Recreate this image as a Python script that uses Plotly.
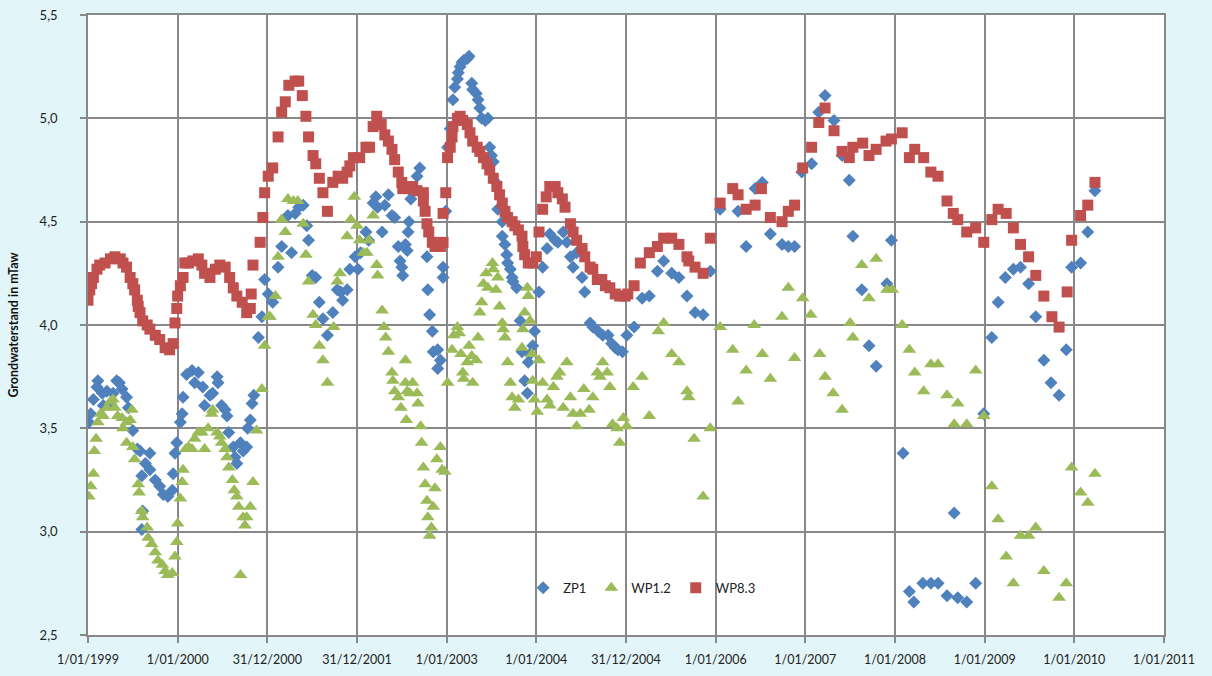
import plotly.graph_objects as go

# ---- tick labels (x axis: decimal years) ----
x_tick_years = [1999, 2000, 2001, 2002, 2003, 2004, 2005, 2006, 2007, 2008, 2009, 2010, 2011]
x_tick_labels = ["1/01/1999", "1/01/2000", "31/12/2000", "31/12/2001", "1/01/2003", "1/01/2004",
                 "31/12/2004", "1/01/2006", "1/01/2007", "1/01/2008", "1/01/2009", "1/01/2010", "1/01/2011"]

# ---- ZP1 (blue diamonds) ----
zp1_t = [1999.01, 1999.03, 1999.06, 1999.10, 1999.11, 1999.16, 1999.17, 1999.21, 1999.25, 1999.28, 1999.32, 1999.35,
         1999.38, 1999.43, 1999.45, 1999.50, 1999.55, 1999.58, 1999.60, 1999.64, 1999.61, 1999.60, 1999.69, 1999.69,
         1999.75, 1999.80, 1999.84, 1999.89, 1999.94, 1999.95, 1999.97, 1999.99, 2000.03, 2000.05, 2000.06, 2000.10,
         2000.16, 2000.19, 2000.23, 2000.28, 2000.30, 2000.36, 2000.39, 2000.44, 2000.45, 2000.49, 2000.53, 2000.55,
         2000.57, 2000.62, 2000.64, 2000.66, 2000.70, 2000.73, 2000.77, 2000.78, 2000.81, 2000.83, 2000.85, 2000.90,
         2000.94, 2000.97, 2001.01, 2001.06, 2001.12, 2001.16, 2001.23, 2001.27, 2001.31, 2001.35, 2001.40, 2001.44,
         2001.46, 2001.50, 2001.54, 2001.58, 2001.62, 2001.67, 2001.73, 2001.78, 2001.82, 2001.84, 2001.89, 2001.92,
         2001.98, 2002.01, 2002.04, 2002.10, 2002.13, 2002.18, 2002.21, 2002.23, 2002.28, 2002.31, 2002.35, 2002.39,
         2002.42, 2002.46, 2002.48, 2002.50, 2002.51, 2002.54, 2002.56, 2002.57, 2002.58, 2002.60, 2002.62, 2002.67,
         2002.70, 2002.78, 2002.79, 2002.81, 2002.84, 2002.85, 2002.90, 2002.90, 2002.93, 2002.96, 2002.96, 2002.99,
         2003.01, 2003.04, 2003.07, 2003.09, 2003.12, 2003.13, 2003.15, 2003.17, 2003.19, 2003.23, 2003.25, 2003.28,
         2003.29, 2003.33, 2003.35, 2003.37, 2003.39, 2003.43, 2003.46, 2003.48, 2003.50, 2003.52, 2003.55, 2003.57,
         2003.62, 2003.62, 2003.65, 2003.67, 2003.68, 2003.71, 2003.73, 2003.74, 2003.78, 2003.82, 2003.84, 2003.87,
         2003.90, 2003.91, 2003.93, 2003.96, 2003.98, 2004.03, 2004.07, 2004.12, 2004.15, 2004.21, 2004.24, 2004.30,
         2004.34, 2004.38, 2004.41, 2004.45, 2004.51, 2004.54, 2004.60, 2004.63, 2004.69, 2004.74, 2004.80, 2004.84,
         2004.88, 2004.91, 2004.96, 2005.01, 2005.09, 2005.18, 2005.26, 2005.35, 2005.42, 2005.51, 2005.59, 2005.68,
         2005.77, 2005.86, 2005.94, 2006.05, 2006.25, 2006.34, 2006.44, 2006.52, 2006.61, 2006.74, 2006.81, 2006.88,
         2006.96, 2007.07, 2007.15, 2007.22, 2007.32, 2007.41, 2007.49, 2007.53, 2007.63, 2007.71, 2007.79, 2007.91,
         2007.96, 2008.09, 2008.16, 2008.21, 2008.31, 2008.40, 2008.48, 2008.58, 2008.66, 2008.70, 2008.80, 2008.90,
         2008.99, 2009.08, 2009.15, 2009.23, 2009.32, 2009.40, 2009.49, 2009.57, 2009.66, 2009.74, 2009.83, 2009.91,
         2009.97, 2010.07, 2010.15, 2010.23]
zp1_v = [3.53, 3.57, 3.64, 3.70, 3.73, 3.67, 3.61, 3.68, 3.62, 3.67, 3.73, 3.72,
         3.69, 3.65, 3.60, 3.49, 3.40, 3.39, 3.27, 3.33, 3.10, 3.01, 3.38, 3.30,
         3.25, 3.22, 3.18, 3.17, 3.20, 3.28, 3.38, 3.43, 3.53, 3.57, 3.65, 3.76,
         3.78, 3.72, 3.77, 3.70, 3.61, 3.66, 3.67, 3.75, 3.72, 3.61, 3.59, 3.56,
         3.48, 3.41, 3.36, 3.33, 3.43, 3.39, 3.41, 3.50, 3.54, 3.62, 3.66, 3.94,
         4.04, 4.22, 4.15, 4.11, 4.28, 4.38, 4.53, 4.35, 4.54, 4.57, 4.58, 4.48,
         4.41, 4.24, 4.23, 4.11, 4.03, 3.95, 4.06, 4.17, 4.16, 4.12, 4.17, 4.27,
         4.33, 4.27, 4.35, 4.45, 4.41, 4.59, 4.62, 4.57, 4.45, 4.58, 4.63, 4.53,
         4.52, 4.38, 4.31, 4.28, 4.24, 4.39, 4.36, 4.45, 4.50, 4.61, 4.64, 4.72,
         4.76, 4.33, 4.17, 4.05, 3.97, 3.87, 3.88, 3.79, 3.83, 4.28, 4.23, 4.55,
         4.86, 4.95, 5.09, 5.15, 5.19, 5.22, 5.25, 5.27, 5.28, 5.29, 5.30, 5.17,
         5.14, 5.12, 5.09, 5.05, 5.00, 4.99, 5.00, 4.86, 4.82, 4.79, 4.69, 4.56,
         4.50, 4.43, 4.39, 4.34, 4.30, 4.27, 4.23, 4.21, 4.18, 4.02, 3.87, 3.73,
         3.67, 3.82, 3.86, 3.90, 3.97, 4.16, 4.28, 4.37, 4.44, 4.41, 4.40, 4.45,
         4.40, 4.33, 4.28, 4.35, 4.23, 4.16, 4.01, 3.99, 3.97, 3.95, 3.95, 3.91,
         3.89, 3.88, 3.87, 3.95, 3.99, 4.13, 4.14, 4.26, 4.31, 4.25, 4.23, 4.14,
         4.06, 4.05, 4.26, 4.56, 4.55, 4.38, 4.66, 4.69, 4.44, 4.39, 4.38, 4.38,
         4.74, 4.78, 5.03, 5.11, 4.99, 4.82, 4.70, 4.43, 4.17, 3.90, 3.80, 4.20,
         4.41, 3.38, 2.71, 2.66, 2.75, 2.75, 2.75, 2.69, 3.09, 2.68, 2.66, 2.75,
         3.57, 3.94, 4.11, 4.23, 4.27, 4.28, 4.20, 4.04, 3.83, 3.72, 3.66, 3.88,
         4.28, 4.30, 4.45, 4.65]

# ---- WP1.2 (green triangles) ----
wp12_t = [1999.01, 1999.03, 1999.06, 1999.07, 1999.09, 1999.11, 1999.14, 1999.17, 1999.21, 1999.25, 1999.28, 1999.30,
          1999.33, 1999.38, 1999.39, 1999.43, 1999.47, 1999.49, 1999.43, 1999.50, 1999.52, 1999.56, 1999.57, 1999.60,
          1999.61, 1999.66, 1999.67, 1999.71, 1999.75, 1999.78, 1999.83, 1999.86, 1999.89, 1999.94, 1999.97, 1999.99,
          2000.00, 2000.03, 2000.05, 2000.06, 2000.09, 2000.12, 2000.16, 2000.19, 2000.23, 2000.27, 2000.30, 2000.34,
          2000.38, 2000.39, 2000.44, 2000.47, 2000.49, 2000.53, 2000.55, 2000.57, 2000.61, 2000.63, 2000.66, 2000.68,
          2000.70, 2000.73, 2000.75, 2000.77, 2000.81, 2000.84, 2000.88, 2000.94, 2000.97, 2001.01, 2001.03, 2001.09,
          2001.12, 2001.16, 2001.20, 2001.23, 2001.29, 2001.34, 2001.40, 2001.43, 2001.46, 2001.51, 2001.54, 2001.58,
          2001.62, 2001.67, 2001.74, 2001.78, 2001.81, 2001.89, 2001.93, 2001.97, 2002.00, 2002.03, 2002.07, 2002.11,
          2002.13, 2002.18, 2002.22, 2002.23, 2002.28, 2002.30, 2002.32, 2002.35, 2002.39, 2002.40, 2002.42, 2002.46,
          2002.49, 2002.54, 2002.54, 2002.56, 2002.59, 2002.62, 2002.67, 2002.68, 2002.55, 2002.71, 2002.72, 2002.74,
          2002.76, 2002.78, 2002.79, 2002.83, 2002.81, 2002.85, 2002.87, 2002.89, 2002.93, 2002.95, 2002.98, 2003.01,
          2003.06, 2003.08, 2003.12, 2003.14, 2003.16, 2003.18, 2003.19, 2003.23, 2003.25, 2003.28, 2003.29, 2003.33,
          2003.35, 2003.37, 2003.39, 2003.41, 2003.44, 2003.46, 2003.51, 2003.52, 2003.55, 2003.57, 2003.59, 2003.62,
          2003.63, 2003.65, 2003.68, 2003.71, 2003.73, 2003.76, 2003.80, 2003.84, 2003.85, 2003.87, 2003.90, 2003.91,
          2003.93, 2003.95, 2003.96, 2003.98, 2004.01, 2004.03, 2004.07, 2004.12, 2004.15, 2004.19, 2004.23, 2004.26,
          2004.30, 2004.34, 2004.38, 2004.41, 2004.45, 2004.49, 2004.53, 2004.59, 2004.63, 2004.68, 2004.71, 2004.74,
          2004.79, 2004.82, 2004.85, 2004.90, 2004.93, 2004.97, 2005.01, 2005.08, 2005.18, 2005.26, 2005.36, 2005.42,
          2005.51, 2005.59, 2005.68, 2005.70, 2005.76, 2005.86, 2005.94, 2006.05, 2006.19, 2006.25, 2006.34, 2006.43,
          2006.52, 2006.61, 2006.74, 2006.81, 2006.88, 2006.97, 2007.06, 2007.16, 2007.22, 2007.31, 2007.41, 2007.50,
          2007.53, 2007.63, 2007.71, 2007.79, 2007.91, 2007.97, 2008.08, 2008.16, 2008.22, 2008.32, 2008.40, 2008.48,
          2008.58, 2008.66, 2008.70, 2008.80, 2008.90, 2008.99, 2009.08, 2009.15, 2009.24, 2009.32, 2009.40, 2009.49,
          2009.57, 2009.66, 2009.83, 2009.91, 2009.97, 2010.07, 2010.15, 2010.23]
wp12_v = [3.17, 3.22, 3.28, 3.39, 3.45, 3.53, 3.57, 3.56, 3.60, 3.63, 3.64, 3.60,
          3.56, 3.55, 3.50, 3.53, 3.54, 3.59, 3.43, 3.41, 3.35, 3.23, 3.19, 3.10,
          3.07, 3.02, 2.97, 2.94, 2.90, 2.86, 2.84, 2.81, 2.79, 2.80, 2.88, 2.95,
          3.04, 3.16, 3.24, 3.30, 3.40, 3.41, 3.40, 3.45, 3.48, 3.48, 3.40, 3.50,
          3.57, 3.59, 3.48, 3.46, 3.43, 3.40, 3.36, 3.31, 3.25, 3.20, 3.17, 3.12,
          2.79, 3.07, 3.03, 3.07, 3.12, 3.24, 3.49, 3.69, 3.90, 4.04, 4.04, 4.14,
          4.33, 4.51, 4.45, 4.61, 4.60, 4.60, 4.49, 4.34, 4.21, 4.05, 4.00, 3.90,
          3.83, 3.72, 3.99, 4.21, 4.25, 4.43, 4.51, 4.62, 4.48, 4.41, 4.35, 4.35,
          4.41, 4.53, 4.29, 4.24, 4.07, 3.99, 3.94, 3.87, 3.77, 3.73, 3.68, 3.65,
          3.60, 3.72, 3.83, 3.68, 3.67, 3.72, 3.67, 3.62, 3.54, 3.51, 3.43, 3.31,
          3.23, 3.15, 3.07, 3.02, 2.98, 3.12, 3.21, 3.35, 3.41, 3.30, 3.29, 3.72,
          3.88, 3.95, 3.99, 3.96, 3.86, 3.77, 3.74, 3.82, 3.90, 3.85, 3.72, 3.83,
          3.94, 4.06, 4.11, 4.20, 4.25, 4.18, 4.30, 4.27, 4.17, 4.23, 4.09, 4.01,
          3.98, 3.94, 3.82, 3.72, 3.65, 3.60, 3.64, 3.89, 3.98, 4.06, 4.18, 4.14,
          4.02, 3.86, 3.73, 3.64, 3.58, 3.83, 3.72, 3.64, 3.61, 3.70, 3.75, 3.77,
          3.60, 3.82, 3.65, 3.57, 3.51, 3.57, 3.69, 3.59, 3.65, 3.77, 3.75, 3.82,
          3.77, 3.70, 3.52, 3.50, 3.43, 3.55, 3.51, 3.70, 3.75, 3.56, 3.97, 4.01,
          3.86, 3.82, 3.68, 3.65, 3.45, 3.17, 3.50, 3.99, 3.88, 3.63, 3.78, 4.00,
          3.86, 3.74, 4.04, 4.18, 3.84, 4.13, 4.05, 3.86, 3.75, 3.67, 3.59, 4.01,
          3.94, 4.29, 4.13, 4.32, 4.17, 4.17, 4.00, 3.88, 3.77, 3.68, 3.81, 3.81,
          3.66, 3.52, 3.62, 3.52, 3.78, 3.56, 3.22, 3.06, 2.88, 2.75, 2.98, 2.98,
          3.02, 2.81, 2.68, 2.75, 3.31, 3.19, 3.14, 3.28]

# ---- WP8.3 (red squares) ----
wp83_t = [1999.00, 1999.02, 1999.04, 1999.06, 1999.10, 1999.13, 1999.19, 1999.25, 1999.30, 1999.36, 1999.39, 1999.43,
          1999.47, 1999.50, 1999.52, 1999.55, 1999.56, 1999.58, 1999.61, 1999.66, 1999.69, 1999.75, 1999.80, 1999.86,
          1999.91, 1999.95, 1999.97, 1999.99, 2000.00, 2000.03, 2000.06, 2000.08, 2000.12, 2000.17, 2000.23, 2000.27,
          2000.30, 2000.36, 2000.42, 2000.47, 2000.53, 2000.58, 2000.62, 2000.66, 2000.72, 2000.77, 2000.81, 2000.82,
          2000.84, 2000.92, 2000.95, 2000.97, 2001.01, 2001.06, 2001.12, 2001.16, 2001.20, 2001.24, 2001.31, 2001.35,
          2001.39, 2001.43, 2001.46, 2001.51, 2001.54, 2001.58, 2001.62, 2001.67, 2001.73, 2001.79, 2001.84, 2001.89,
          2001.92, 2001.96, 2002.03, 2002.10, 2002.14, 2002.18, 2002.22, 2002.27, 2002.31, 2002.35, 2002.39, 2002.42,
          2002.46, 2002.50, 2002.51, 2002.57, 2002.62, 2002.67, 2002.74, 2002.74, 2002.76, 2002.78, 2002.80, 2002.84,
          2002.87, 2002.93, 2002.96, 2002.96, 2002.99, 2003.01, 2003.04, 2003.06, 2003.07, 2003.12, 2003.15, 2003.18,
          2003.23, 2003.26, 2003.29, 2003.34, 2003.37, 2003.41, 2003.45, 2003.48, 2003.52, 2003.56, 2003.59, 2003.62,
          2003.65, 2003.68, 2003.73, 2003.76, 2003.80, 2003.84, 2003.85, 2003.87, 2003.91, 2003.96, 2004.00, 2004.03,
          2004.07, 2004.11, 2004.15, 2004.21, 2004.24, 2004.29, 2004.32, 2004.38, 2004.41, 2004.45, 2004.51, 2004.54,
          2004.60, 2004.63, 2004.68, 2004.73, 2004.77, 2004.82, 2004.88, 2004.93, 2004.99, 2005.02, 2005.09, 2005.16,
          2005.26, 2005.35, 2005.42, 2005.51, 2005.59, 2005.68, 2005.70, 2005.77, 2005.86, 2005.94, 2006.05, 2006.19,
          2006.25, 2006.34, 2006.44, 2006.51, 2006.61, 2006.74, 2006.81, 2006.88, 2006.97, 2007.07, 2007.15, 2007.22,
          2007.32, 2007.41, 2007.49, 2007.53, 2007.64, 2007.71, 2007.79, 2007.90, 2007.96, 2008.08, 2008.16, 2008.22,
          2008.32, 2008.40, 2008.48, 2008.58, 2008.65, 2008.70, 2008.80, 2008.90, 2008.99, 2009.08, 2009.15, 2009.24,
          2009.32, 2009.40, 2009.49, 2009.57, 2009.66, 2009.75, 2009.83, 2009.92, 2009.97, 2010.07, 2010.15, 2010.23]
wp83_v = [4.12, 4.17, 4.20, 4.23, 4.27, 4.29, 4.30, 4.32, 4.33, 4.32, 4.30, 4.28,
          4.23, 4.20, 4.17, 4.12, 4.09, 4.06, 4.02, 4.00, 3.98, 3.95, 3.93, 3.89,
          3.88, 3.91, 4.01, 4.08, 4.14, 4.19, 4.23, 4.30, 4.30, 4.31, 4.32, 4.29,
          4.25, 4.23, 4.27, 4.29, 4.28, 4.23, 4.18, 4.14, 4.11, 4.06, 4.08, 4.15,
          4.29, 4.40, 4.52, 4.64, 4.72, 4.76, 4.91, 5.03, 5.08, 5.16, 5.18, 5.18,
          5.11, 5.01, 4.91, 4.82, 4.78, 4.71, 4.64, 4.55, 4.69, 4.72, 4.71, 4.74,
          4.77, 4.81, 4.81, 4.86, 4.86, 4.96, 5.01, 4.97, 4.92, 4.89, 4.85, 4.80,
          4.74, 4.69, 4.66, 4.66, 4.67, 4.65, 4.64, 4.60, 4.55, 4.49, 4.45, 4.40,
          4.38, 4.38, 4.40, 4.54, 4.64, 4.81, 4.86, 4.91, 4.96, 5.00, 5.01, 4.99,
          4.97, 4.93, 4.89, 4.86, 4.84, 4.81, 4.78, 4.75, 4.71, 4.67, 4.63, 4.59,
          4.55, 4.52, 4.50, 4.48, 4.46, 4.43, 4.38, 4.34, 4.30, 4.30, 4.33, 4.45,
          4.56, 4.62, 4.67, 4.67, 4.64, 4.61, 4.57, 4.49, 4.45, 4.41, 4.37, 4.33,
          4.28, 4.27, 4.22, 4.22, 4.19, 4.18, 4.15, 4.14, 4.14, 4.15, 4.19, 4.30,
          4.35, 4.38, 4.42, 4.42, 4.39, 4.33, 4.31, 4.28, 4.25, 4.42, 4.59, 4.66,
          4.63, 4.56, 4.58, 4.66, 4.52, 4.50, 4.55, 4.58, 4.76, 4.86, 4.98, 5.05,
          4.94, 4.84, 4.81, 4.86, 4.88, 4.82, 4.85, 4.89, 4.90, 4.93, 4.81, 4.85,
          4.81, 4.74, 4.72, 4.60, 4.54, 4.51, 4.45, 4.47, 4.40, 4.51, 4.56, 4.54,
          4.47, 4.39, 4.33, 4.24, 4.14, 4.04, 3.99, 4.16, 4.41, 4.53, 4.58, 4.69]

FONT = "Lato"
GRID = "#888888"
BG = "#e2f6f9"

fig = go.Figure()
fig.add_trace(go.Scatter(x=zp1_t, y=zp1_v, mode="markers", name="ZP1",
                         marker=dict(symbol="diamond", size=10, color="#4F81BD")))
fig.add_trace(go.Scatter(x=wp12_t, y=wp12_v, mode="markers", name="WP1.2",
                         marker=dict(symbol="triangle-up", size=12, color="#9BBB59")))
fig.add_trace(go.Scatter(x=wp83_t, y=wp83_v, mode="markers", name="WP8.3",
                         marker=dict(symbol="square", size=11, color="#C0504D")))

fig.update_layout(
    width=1212, height=676,
    margin=dict(l=88, r=48, t=15, b=41),
    paper_bgcolor=BG,
    plot_bgcolor="#ffffff",
    separators=",.",
    font=dict(family=FONT, size=13, color="#222222"),
    showlegend=True,
    legend=dict(orientation="h", x=0.515, xanchor="center", y=0.076, yanchor="middle",
                bgcolor="rgba(0,0,0,0)", font=dict(family=FONT, size=13, color="#222222"),
                itemwidth=30, tracegroupgap=0),
)
fig.update_xaxes(
    range=[1999, 2011], tickmode="array", tickvals=x_tick_years, ticktext=x_tick_labels,
    showgrid=True, gridcolor=GRID, gridwidth=1.5, zeroline=False,
    showline=True, linecolor=GRID, linewidth=1.5, mirror=True,
    ticks="outside", ticklen=6, tickcolor=GRID, tickwidth=1.5,
    ticklabelstandoff=6, tickfont=dict(family=FONT, size=12.5, color="#222222"),
    automargin=False,
)
fig.update_yaxes(
    range=[2.5, 5.5], dtick=0.5, tick0=2.5, tickformat=".1f",
    showgrid=True, gridcolor=GRID, gridwidth=1.5, zeroline=False,
    showline=True, linecolor=GRID, linewidth=1.5, mirror=True,
    ticks="outside", ticklen=6, tickcolor=GRID, tickwidth=1.5,
    ticklabelstandoff=20, tickfont=dict(family=FONT, size=13, color="#222222"),
    title=dict(text="<b>Grondwaterstand in mTaw</b>", font=dict(family=FONT, size=12.5, color="#111111"), standoff=18),
    automargin=False,
)

fig.write_html("out.html", config={"displayModeBar": False},
               post_script="document.body.style.margin='0';document.body.style.background='%s';" % BG)
